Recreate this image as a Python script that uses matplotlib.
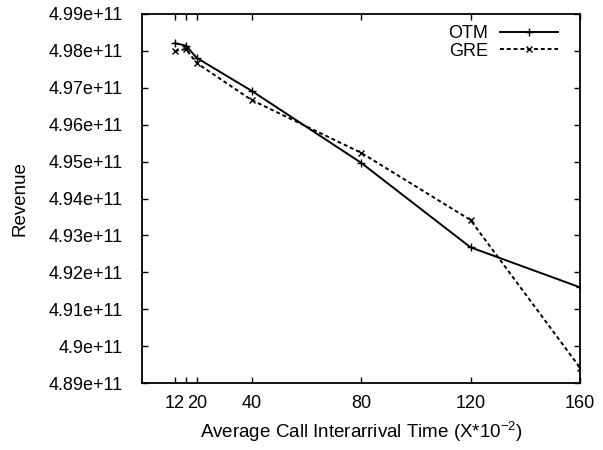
import numpy as np
import matplotlib
matplotlib.use("Agg")
import matplotlib.pyplot as plt
from matplotlib.ticker import FuncFormatter

plt.rcParams["font.family"] = ["Liberation Sans", "DejaVu Sans"]
plt.rcParams["mathtext.fontset"] = "custom"
plt.rcParams["mathtext.rm"] = "Liberation Sans"

# ── Data ──────────────────────────────────────────────────────────────────────
interarrival = [12, 16, 20, 40, 80, 120, 160]
otm_revenue = [4.98205e11, 4.98146e11, 4.9781e11, 4.9692e11, 4.9497e11, 4.92677e11, 4.91593e11]
gre_revenue = [4.97997e11, 4.9805e11, 4.9767e11, 4.9667e11, 4.95241e11, 4.93417e11, 4.89415e11]

x_ticks = [12, 16, 20, 40, 80, 120, 160]
x_tick_labels = ["12", "", "20", "40", "80", "120", "160"]
y_ticks = [4.89e11, 4.90e11, 4.91e11, 4.92e11, 4.93e11, 4.94e11,
           4.95e11, 4.96e11, 4.97e11, 4.98e11, 4.99e11]

fig = plt.figure(figsize=(6.03, 4.5), dpi=100)
ax = fig.add_axes([142 / 603, 1 - 383 / 450, (580 - 142) / 603, (383 - 14) / 450])

ax.plot(interarrival, otm_revenue, color="black", lw=1.4, marker="+", ms=6, mew=1.0, label="OTM")
ax.plot(interarrival, gre_revenue, color="black", lw=1.4, ls=(0, (2, 1.5)), marker="x", ms=4.5, mew=1.0, label="GRE")

ax.set_xlim(0, 160)
ax.set_ylim(4.89e11, 4.99e11)
ax.set_xticks(x_ticks)
ax.set_xticklabels(x_tick_labels)
ax.set_yticks(y_ticks)
ax.yaxis.set_major_formatter(FuncFormatter(lambda v, p: "%g" % float("%.4g" % v)))
ax.tick_params(direction="in", length=4, width=1, top=True, right=True, labelsize=13)
ax.tick_params(axis="y", pad=14)
ax.tick_params(axis="x", pad=9)
for s in ax.spines.values():
    s.set_linewidth(1.3)

ax.set_xlabel(r"Average Call Interarrival Time (X*10$^{\mathregular{-2}}$)", fontsize=13.5)
ax.set_ylabel("Revenue", fontsize=13.5)
ax.xaxis.set_label_coords(0.5, -0.098)
ax.yaxis.set_label_coords(-0.258, 0.5)

ax.legend(loc="upper right", bbox_to_anchor=(0.975, 1.0), frameon=False, markerfirst=False,
          handlelength=3.2, fontsize=13, labelspacing=0.05, handletextpad=0.7, borderaxespad=0.2)

fig.savefig("out.png", dpi=100)
